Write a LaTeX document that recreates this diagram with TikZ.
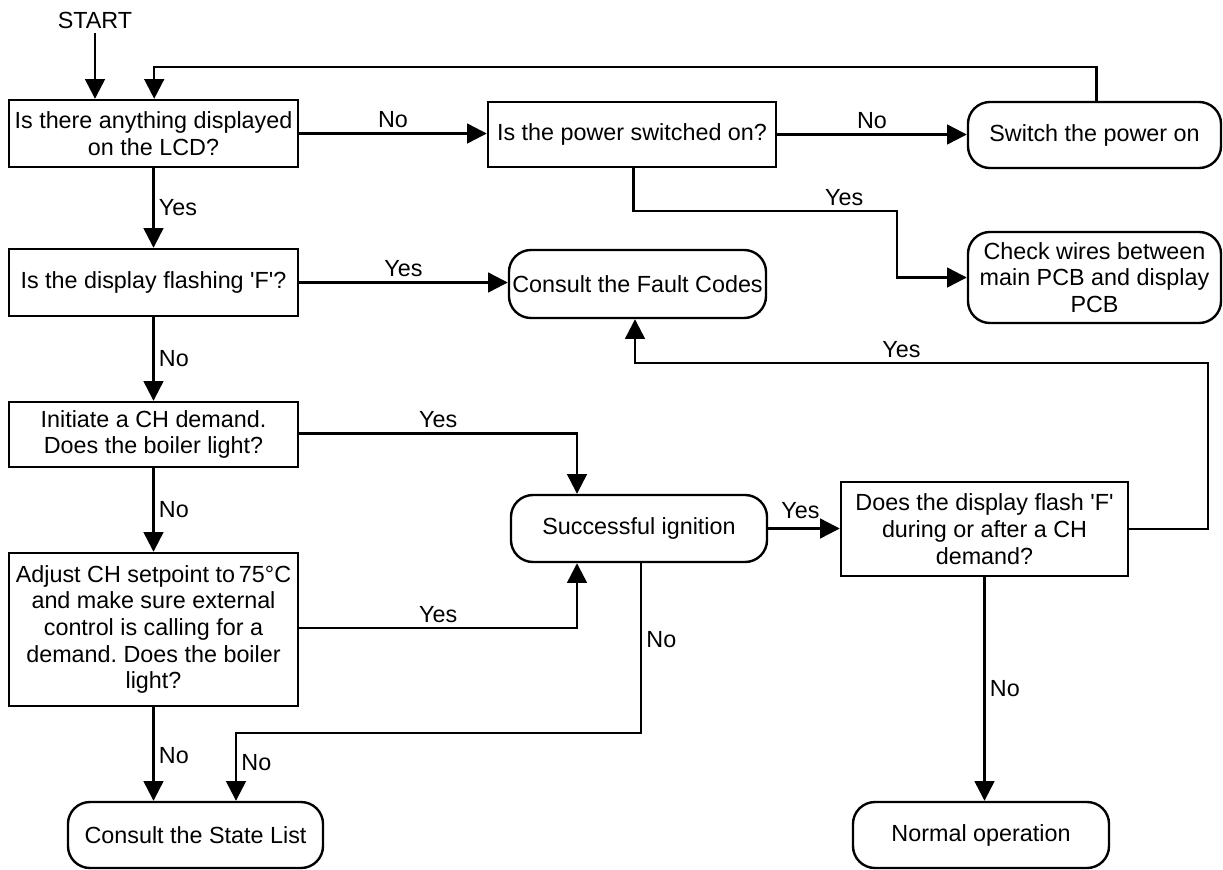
\documentclass[tikz,border=0pt]{standalone}
\usepackage{fontspec}
\setmainfont{Liberation Sans}
\usepackage{tikz}
\usetikzlibrary{arrows.meta}
\frenchspacing

\begin{document}
\begin{tikzpicture}[
        x=0.025cm, y=-0.025cm,
        every node/.style={font=\fontsize{16.6pt}{19pt}\selectfont},
        qbox/.style={draw, rectangle, line width=1.7pt, align=center, inner sep=2pt, minimum width=7.225cm, minimum height=1.675cm},
        term/.style={draw, rectangle, rounded corners=0.55cm, line width=1.7pt, align=center, inner sep=2pt, minimum width=6.4cm, minimum height=1.65cm},
        flow/.style={-{Triangle[length=14pt,width=14pt]}, line width=1.7pt},
        lbl/.style={inner sep=3pt}
    ]
        \useasboundingbox (0,0) rectangle (1223,869);

        % Left column
        \node (start) at (95,20) {START};
        \node[qbox] (lcd) at (153.5,133.5) {Is there anything displayed\\on the LCD?};
        \node[qbox] (flashing) at (153.5,282.5) {Is the display flashing {\textquotesingle}F{\textquotesingle}?};
        \node[qbox, minimum height=1.625cm] (initiate) at (153.5,434.5) {Initiate a CH demand.\\Does the boiler light?};
        \node[qbox, minimum height=3.825cm] (adjust) at (153.5,629.5) {Adjust CH setpoint to\,75°C\\and make sure external\\control is calling for a\\demand. Does the boiler\\light?};
        \node[term, minimum width=6.375cm] (statelist) at (195.5,835) {Consult the State List};

        % Middle and right
        \node[qbox, minimum width=7.2cm, minimum height=1.625cm] (power) at (632,134.5) {Is the power switched on?};
        \node[term, minimum width=6.325cm] (switchon) at (1094.5,135) {Switch the power on};
        \node[term, minimum width=6.325cm, minimum height=2.275cm] (wires) at (1094.5,277.5) {Check wires between\\main PCB and display\\PCB};
        \node[term, minimum width=6.425cm, minimum height=1.7cm] (fault) at (637.5,284) {Consult the Fault Codes};
        \node[term, minimum height=1.675cm] (ignition) at (639,528.5) {Successful ignition};
        \node[qbox, minimum width=7.175cm, minimum height=2.35cm] (during) at (984.5,529) {Does the display flash {\textquotesingle}F{\textquotesingle}\\during or after a CH\\demand?};
        \node[term] (normal) at (981,835) {Normal operation};

        % Bend points
        \coordinate (topline) at (0,67);
        \coordinate (pwrbend) at (897,211);
        \coordinate (ignin) at (577,0);
        \coordinate (ignout) at (641,733);
        \coordinate (statein) at (236,0);
        \coordinate (rightline) at (1208,363);
        \coordinate (faultin) at (635,0);

        % Connectors
        \draw[flow] (start.south) -- (start.south |- lcd.north);
        \draw[flow] ([xshift=1.5]switchon.north) -- ([xshift=1.5]switchon.north |- topline) -| ([xshift=0.5]lcd.north);
        \draw[flow] (lcd.east) -- node[lbl, above] {No} (lcd.east -| power.west);
        \draw[flow] (power.east) -- node[lbl, above] {No} (power.east -| switchon.west);
        \draw[flow] ([xshift=1]power.south) |- node[lbl, above, pos=0.9] {Yes} (pwrbend) |- (wires.west);
        \draw[flow] (lcd.south) -- node[lbl, right] {Yes} (flashing.north);
        \draw[flow] (flashing.east) -- node[lbl, above] {Yes} (flashing.east -| fault.west);
        \draw[flow] (flashing.south) -- node[lbl, right] {No} (initiate.north);
        \draw[flow] (initiate.south) -- node[lbl, right] {No} (adjust.north);
        \draw[flow] ([yshift=0.025cm]initiate.east) -| node[lbl, above, pos=0.25] {Yes} (ignin |- ignition.north);
        \draw[flow] ([yshift=0.04cm]adjust.east) -| node[lbl, above, pos=0.25] {Yes} (ignin |- ignition.south);
        \draw[flow] (ignition.east) -- node[lbl, above, pos=0.45, yshift=3pt] {Yes} (ignition.east -| during.west);
        \draw[flow] (ignout |- ignition.south) -- node[lbl, right, pos=0.45] {No} (ignout) -| node[lbl, right, pos=0.72] {No} (statein |- statelist.north);
        \draw[flow] (adjust.south) -- node[lbl, right, pos=0.52] {No} (adjust.south |- statelist.north);
        \draw[flow] (during.east) -| (rightline) -| node[lbl, above, pos=0.25, xshift=-0.5cm] {Yes} (faultin |- fault.south);
        \draw[flow] (during.south) -- node[lbl, right] {No} (during.south |- normal.north);
    \end{tikzpicture}
\end{document}
